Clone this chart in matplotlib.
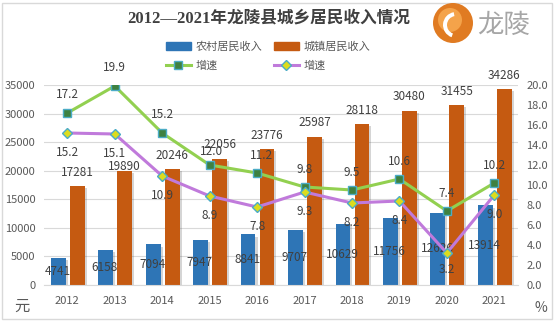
import matplotlib
matplotlib.use("Agg")
import matplotlib.pyplot as plt
import matplotlib.patheffects as pe
from matplotlib.patches import Rectangle, Circle, Wedge
from matplotlib.lines import Line2D
from matplotlib.transforms import IdentityTransform
import numpy as np

plt.rcParams['font.family'] = ['Noto Sans CJK SC', 'DejaVu Sans']

years = ['2012', '2013', '2014', '2015', '2016', '2017', '2018', '2019', '2020', '2021']
rural = [4741, 6158, 7094, 7947, 8841, 9707, 10629, 11756, 12626, 13914]
urban = [17281, 19890, 20246, 22056, 23776, 25987, 28118, 30480, 31455, 34286]
urban_growth = [17.2, 19.9, 15.2, 12.0, 11.2, 9.8, 9.5, 10.6, 7.4, 10.2]
rural_growth = [15.2, 15.1, 10.9, 8.9, 7.8, 9.3, 8.2, 8.4, 3.2, 9.0]
left_ticks = [0, 5000, 10000, 15000, 20000, 25000, 30000, 35000]
right_ticks = [0, 2, 4, 6, 8, 10, 12, 14, 16, 18, 20]

# label placement (styling, in points)
urban_lbl_dy = [10, 3.3, 10, 10.5, 10, 10, 10, 10, 10, 10]
green_lbl_dx = [0, 0, 0, 1.5, 3, 0, 0, 0, 0, 0]
green_lbl_dy = [13, 13.5, 13, 10, 12.7, 12.7, 12.5, 12.7, 12.5, 12.7]
purple_lbl_dy = [-14, -14, -14, -14, -14, -14, -14, -14, -12, -14]

W, H = 554, 322
fig = plt.figure(figsize=(W / 100, H / 100), dpi=100)
fig.patch.set_facecolor('white')

# figure border
fig.add_artist(Rectangle((2 / W, 3 / H), (W - 4) / W, (H - 6) / H, transform=fig.transFigure,
                         fill=False, edgecolor='#D9D9D9', linewidth=1.0))

ax = fig.add_axes([43.6 / W, (H - 285) / H, 474.4 / W, 200 / H])
ax2 = ax.twinx()

x = np.arange(len(years))
bw = 0.31
shadow = [pe.SimplePatchShadow(offset=(1.5, -1.5), alpha=0.22, shadow_rgbFace='#444444'), pe.Normal()]

b1 = ax.bar(x - 0.19, rural, width=bw, color='#2E75B6', zorder=2)
b2 = ax.bar(x + 0.21, urban, width=bw, color='#C55A11', zorder=2)
for b in list(b1) + list(b2):
    b.set_path_effects(shadow)

for xi, v in zip(x, rural):
    ax.text(xi - 0.21, v / 2, str(v), ha='center', va='center', fontsize=8.5, color='#404040', zorder=5)
for xi, v, dy in zip(x, urban, urban_lbl_dy):
    ax.annotate(str(v), (xi + 0.21, v), xytext=(0, dy), textcoords='offset points',
                ha='center', va='center', fontsize=8.5, color='#404040')

ax.set_ylim(0, 35000)
ax.set_yticks(left_ticks)
ax.set_xlim(-0.5, len(years) - 0.5)
ax.set_xticks(x)
ax.set_xticklabels(years)
ax.yaxis.grid(True, color='#D9D9D9', linewidth=0.8)
ax.set_axisbelow(True)
ax.tick_params(axis='x', length=0, labelsize=8, colors='#595959', pad=8)
ax.tick_params(axis='y', length=0, labelsize=8, colors='#595959', pad=6)
for s in ['top', 'right', 'left']:
    ax.spines[s].set_visible(False)
ax.spines['bottom'].set_color('#D9D9D9')

ax2.plot(x, urban_growth, color='#92D050', linewidth=2.2, marker='s', markersize=6,
         markerfacecolor='#3E8140', markeredgecolor='#4BACC6', markeredgewidth=1.0, zorder=4)
ax2.plot(x, rural_growth, color='#C07ADB', linewidth=2.2, marker='D', markersize=5.5,
         markerfacecolor='#DCDC1E', markeredgecolor='#4BACC6', markeredgewidth=1.0, zorder=4)
for xi, v, dx, dy in zip(x, urban_growth, green_lbl_dx, green_lbl_dy):
    ax2.annotate(f'{v:.1f}', (xi, v), xytext=(dx, dy), textcoords='offset points',
                 ha='center', va='center', fontsize=8.5, color='#404040')
for xi, v, dy in zip(x, rural_growth, purple_lbl_dy):
    ax2.annotate(f'{v:.1f}', (xi, v), xytext=(0, dy), textcoords='offset points',
                 ha='center', va='center', fontsize=8.5, color='#404040')
ax2.set_ylim(0, 20)
ax2.set_yticks(right_ticks)
ax2.set_yticklabels([f'{t:.1f}' for t in right_ticks])
ax2.tick_params(axis='y', length=0, labelsize=8, colors='#595959', pad=6)
for s in ['top', 'right', 'left', 'bottom']:
    ax2.spines[s].set_visible(False)
ax.set_zorder(1)
ax2.set_zorder(2)
ax2.patch.set_visible(False)

fig.text(22 / W, 1 - 306 / H, '元', fontsize=11, color='#595959', ha='center', va='center')
fig.text(541 / W, 1 - 308 / H, '%', fontsize=10, color='#595959', ha='center', va='center')

# title
fig.text(269 / W, 1 - 19 / H, '2012—2021年龙陵县城乡居民收入情况', fontsize=12, fontweight='bold',
         color='#404040', ha='center', va='center', family=['Liberation Serif', 'Noto Sans CJK SC'])

# logo (pixel coordinates, origin bottom-left)
cx, cy = 453, H - 23
fig.add_artist(Circle((cx, cy), 20, transform=IdentityTransform(), facecolor='#E07B22', edgecolor='none'))
fig.add_artist(Circle((cx - 3, cy + 3), 12, transform=IdentityTransform(), facecolor='#F4A34A', edgecolor='none'))
fig.add_artist(Wedge((cx + 3, cy - 2), 13, 100, 250, width=4, transform=IdentityTransform(),
                     facecolor='white', edgecolor='none'))
fig.text(477 / W, 1 - 25 / H, '龙陵', fontsize=19, color='#A6A6A6', ha='left', va='center', style='italic')

# legend
handles = [
    Rectangle((0, 0), 1, 1, color='#2E75B6'),
    Line2D([], [], color='#92D050', linewidth=2.2, marker='s', markersize=6,
           markerfacecolor='#3E8140', markeredgecolor='#4BACC6'),
    Rectangle((0, 0), 1, 1, color='#C55A11'),
    Line2D([], [], color='#C07ADB', linewidth=2.2, marker='D', markersize=5.5,
           markerfacecolor='#DCDC1E', markeredgecolor='#4BACC6'),
]
labels = ['农村居民收入', '增速', '城镇居民收入', '增速']
leg = fig.legend(handles, labels, ncol=2, loc='center', bbox_to_anchor=(268 / W, 1 - 56 / H),
                 frameon=False, fontsize=8, handlelength=2.3, handleheight=0.6,
                 columnspacing=1.0, handletextpad=0.4, labelspacing=0.75)
for t in leg.get_texts():
    t.set_color('#595959')

fig.savefig('out.png', dpi=100)
